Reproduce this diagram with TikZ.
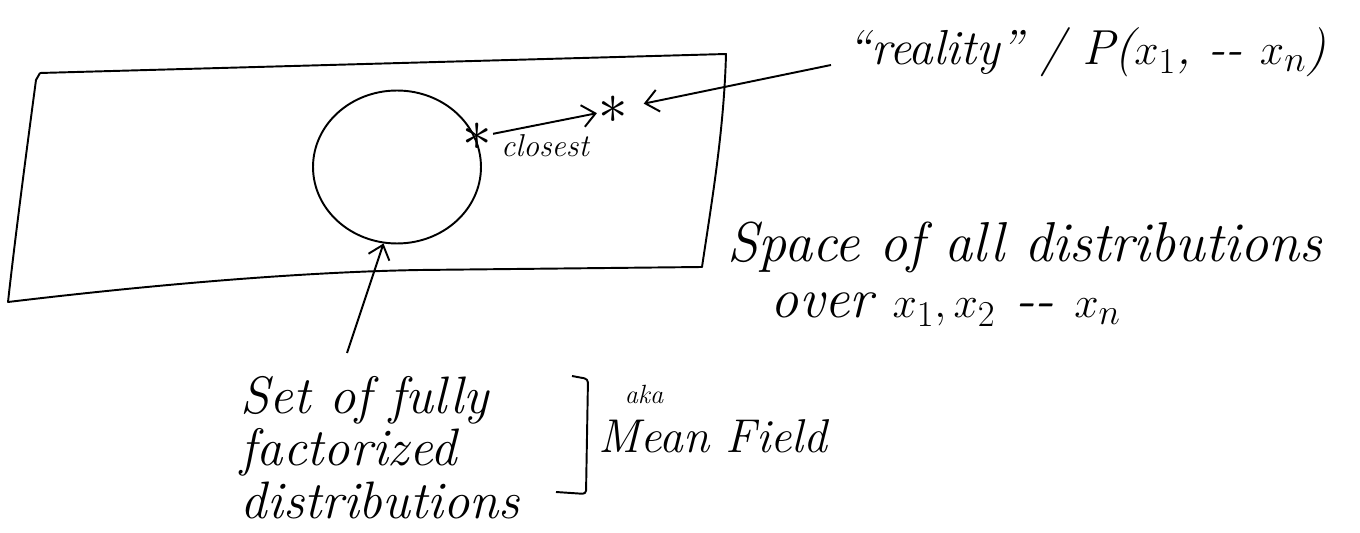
\documentclass[tikz,border=0pt]{standalone}
\usepackage{tikz}
\usetikzlibrary{arrows.meta,positioning,shapes.geometric}

\begin{document}
\begin{tikzpicture}[x=0.02cm,y=-0.02cm,line width=1.1pt,line join=round,
  hand/.style={inner sep=0pt,font=\itshape\fontsize{#1}{#1}\selectfont},
  arr/.style={-{Straight Barb[length=2.6mm,width=4.4mm]}},
  spark/.style={inner sep=0pt,scale=1.35,font=\Huge}]
\fill[white] (0,0) rectangle (1360,533);
\useasboundingbox (0,0) rectangle (1360,533);
% the space of all distributions
\draw (40,73) -- (726,54) .. controls (724,130) and (712,200) .. (702,267)
  -- (420,270) .. controls (300,272) and (150,285) .. (8,302)
  .. controls (16,230) and (28,140) .. (36,80) -- (40,73);
\node[hand=32,align=left,anchor=north west] (space) at (727,221)
  {Space of all distributions\\\hspace*{0.86cm}over $x_1, x_2$ {-}{-} $x_n$};
% mean field set
\node[draw,ellipse,minimum width=3.36cm,minimum height=3.06cm,inner sep=0pt] (mf) at (397,167) {};
\node[spark] (s1) at (477,137) {$\ast$};
\node[spark] (s2) at (613,110) {$\ast$};
\draw[arr] (s1) -- (s2) node[midway,below=6pt,hand=18] (cl) {closest};
\node[hand=28,inner xsep=9pt,anchor=base west] (real) at (831,65) {``reality'' / P($x_1$, {-}{-} $x_n$)};
\draw[arr,shorten >=0.3cm] (real.base west) -- (s2);
\node[hand=30,align=left,anchor=north west] (fact) at (240,375)
  {Set of fully\\factorized\\distributions};
\coordinate (tail) at (347,353);
\draw[arr] (tail) -- (mf.-100);
\draw[rounded corners=2pt] (572,376) -- (588,379) -- (586,494) -- (556,492);
\node[hand=15,anchor=base west] (aka) at (624,404) {aka};
\node[hand=27,anchor=base west] (mean) at (598,453) {Mean Field};
\end{tikzpicture}
\end{document}
